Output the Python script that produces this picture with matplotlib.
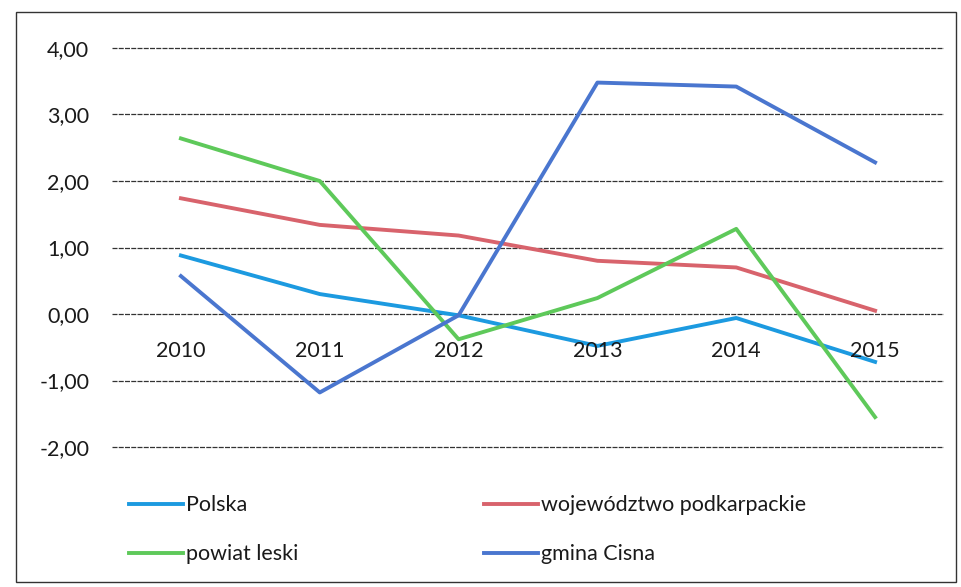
import numpy as np
import matplotlib
matplotlib.use("Agg")
import matplotlib.pyplot as plt
from matplotlib.patches import Rectangle

plt.rcParams['font.family'] = ['Lato', 'DejaVu Sans']
plt.rcParams['text.color'] = '#1a1a1a'
plt.rcParams['ytick.color'] = '#1a1a1a'

years = ["2010", "2011", "2012", "2013", "2014", "2015"]
polska = [0.88, 0.30, -0.02, -0.48, -0.06, -0.72]
wojewodztwo = [1.74, 1.34, 1.18, 0.80, 0.70, 0.05]
powiat = [2.64, 2.00, -0.38, 0.24, 1.28, -1.55]
cisna = [0.57, -1.18, -0.02, 3.48, 3.42, 2.28]
yticks = [-2, -1, 0, 1, 2, 3, 4]

fig = plt.figure(figsize=(9.62, 5.87), dpi=100)
ax = fig.add_axes([111.5 / 962, 1 - 449 / 587, 833 / 962, 403 / 587])

x = np.arange(len(years))
l1, = ax.plot(x, polska, color="#1c9ae0", lw=2.8, label="Polska")
l2, = ax.plot(x, wojewodztwo, color="#d8636c", lw=2.8, label="województwo podkarpackie")
l3, = ax.plot(x, powiat, color="#5ec95a", lw=2.8, label="powiat leski")
l4, = ax.plot(x, cisna, color="#4a76cf", lw=2.8, label="gmina Cisna")

ax.set_xlim(-0.5, 5.5)
ax.set_ylim(-2.03, 4.03)
ax.set_yticks(yticks)
ax.set_yticklabels([f"{v:.2f}".replace(".", ",") for v in yticks], fontsize=15.5)
ax.tick_params(axis="y", length=0, pad=16)
ax.set_xticks([])
for s in ax.spines.values():
    s.set_visible(False)
ax.yaxis.grid(True, color="#333333", lw=0.9, linestyle=(0, (4, 1)))
ax.set_axisbelow(True)

# category labels sit just under the zero line, Excel style
for i, yr in enumerate(years):
    ax.text(i, -0.55, yr, ha="center", va="center", fontsize=15.5)

fig.legend(handles=[l1, l3, l2, l4], ncol=2, loc="upper left",
           bbox_to_anchor=(110 / 962, 1 - 476 / 587), frameon=False,
           fontsize=15.5, handlelength=2.5, handletextpad=0.15,
           columnspacing=8.6, labelspacing=1.35)

fig.patches.append(Rectangle((16 / 962, 5 / 587), 940 / 962, 570 / 587,
                             transform=fig.transFigure, fill=False,
                             edgecolor="#333333", lw=1.0))

fig.savefig("out.png", dpi=100)
